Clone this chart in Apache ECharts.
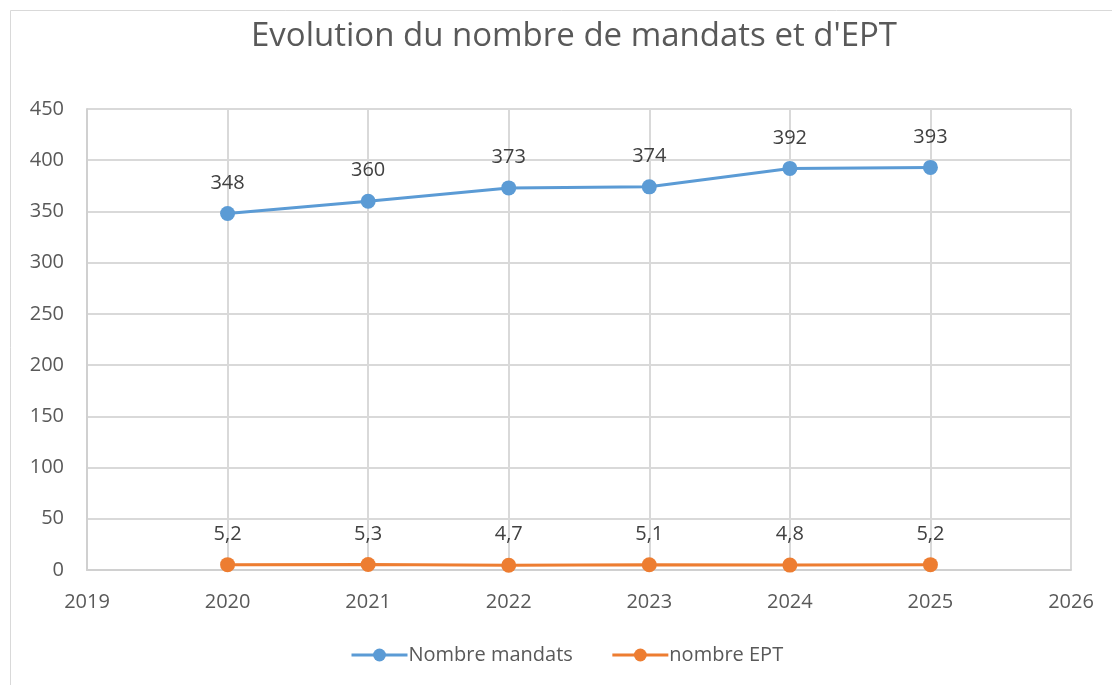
<!DOCTYPE html>
<html>
<head>
<meta charset="utf-8">
<script src="https://cdn.jsdelivr.net/npm/echarts@6/dist/echarts.min.js"></script>
<style>
  html, body { margin: 0; padding: 0; background: #fff; }
  #main { width: 1112px; height: 685px; }
</style>
</head>
<body>
<div id="main"></div>
<script>
// données du graphique
var years = [2020, 2021, 2022, 2023, 2024, 2025];
var mandats = [348, 360, 373, 374, 392, 393];
var ept = [5.2, 5.3, 4.7, 5.1, 4.8, 5.2];

var txt = '#595959';
var font = '"Open Sans", "Liberation Sans", sans-serif';

function toPairs(vals) {
  var out = [];
  for (var i = 0; i < years.length; i++) out.push([years[i], vals[i]]);
  return out;
}

var myChart = echarts.init(document.getElementById('main'));

var option = {
  backgroundColor: '#fff',
  animation: false,
  textStyle: { fontFamily: font },
  title: {
    text: "Evolution du nombre de mandats et d'EPT",
    left: 569,
    top: 15,
    textAlign: 'center',
    textStyle: { fontFamily: font, fontSize: 33, fontWeight: 'normal', color: txt }
  },
  graphic: [
    { type: 'line', shape: { x1: 10.5, y1: 10.5, x2: 1112, y2: 10.5 }, style: { stroke: '#d9d9d9', lineWidth: 1 } },
    { type: 'line', shape: { x1: 10.5, y1: 10.5, x2: 10.5, y2: 685 }, style: { stroke: '#d9d9d9', lineWidth: 1 } }
  ],
  legend: {
    bottom: 15,
    left: 345,
    itemWidth: 56,
    itemHeight: 16,
    itemGap: 38,
    lineStyle: { width: 3 },
    textStyle: { fontFamily: font, fontSize: 20, color: txt, padding: [0, 0, 0, -4] },
    data: ['Nombre mandats', 'nombre EPT']
  },
  grid: { left: 87, right: 41, top: 109, bottom: 115 },
  xAxis: {
    type: 'value',
    min: 2019,
    max: 2026,
    interval: 1,
    axisLine: { show: true, onZero: false, lineStyle: { color: '#d0d0d0', width: 2 } },
    axisTick: { show: false },
    splitLine: { show: true, lineStyle: { color: '#d9d9d9', width: 2 } },
    axisLabel: { color: txt, fontSize: 20, margin: 22, formatter: function (v) { return String(v); } }
  },
  yAxis: {
    type: 'value',
    min: 0,
    max: 450,
    interval: 50,
    axisLine: { show: true, lineStyle: { color: '#d0d0d0', width: 2 } },
    axisTick: { show: false },
    splitLine: { show: true, lineStyle: { color: '#d9d9d9', width: 2 } },
    axisLabel: { color: txt, fontSize: 20, margin: 23 }
  },
  series: [
    {
      name: 'Nombre mandats',
      type: 'line',
      data: toPairs(mandats),
      color: '#5b9bd5',
      symbol: 'circle',
      symbolSize: 15,
      lineStyle: { width: 3 },
      label: { show: true, position: 'top', distance: 13, fontSize: 20, color: '#404040' }
    },
    {
      name: 'nombre EPT',
      type: 'line',
      data: toPairs(ept),
      color: '#ed7d31',
      symbol: 'circle',
      symbolSize: 15,
      lineStyle: { width: 3 },
      label: {
        show: true, position: 'top', distance: 13, fontSize: 20, color: '#404040',
        formatter: function (p) { return String(p.value[1]).replace('.', ','); }
      }
    }
  ]
};

myChart.setOption(option);
</script>
</body>
</html>
